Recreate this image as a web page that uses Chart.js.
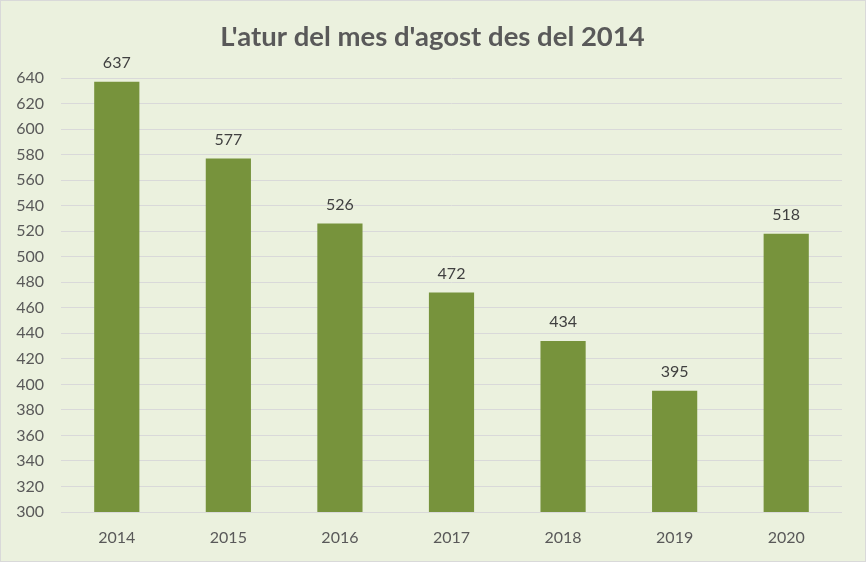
<!DOCTYPE html>
<html><head><meta charset="utf-8">
<script src="https://cdn.jsdelivr.net/npm/chart.js@4/dist/chart.umd.min.js"></script>
<style>
html,body{margin:0;padding:0;background:#fff;}
#wrap{position:relative;width:864px;height:560px;border:1px solid #D9D9D9;background:#EBF1DE;}
canvas{display:block;}
</style></head>
<body><div id="wrap"><canvas id="c" width="864" height="560"></canvas></div>
<script>
const categories = ['2014','2015','2016','2017','2018','2019','2020'];
const values = [637, 577, 526, 472, 434, 395, 518];
const yMin = 300, yMax = 640, yStep = 20;
const titleText = "L'atur del mes d'agost des del 2014";
const FONT = "Lato, 'Liberation Sans', sans-serif";

const labelPlugin = {
  id: 'barLabels',
  afterDatasetsDraw(chart) {
    const ctx = chart.ctx;
    const meta = chart.getDatasetMeta(0);
    ctx.save();
    ctx.font = '16px ' + FONT;
    ctx.fillStyle = '#404040';
    ctx.textAlign = 'center';
    ctx.textBaseline = 'middle';
    meta.data.forEach((bar, i) => {
      ctx.fillText(String(values[i]), bar.x, bar.y - 19);
    });
    // chart title, centred on the canvas
    ctx.font = 'bold 27.5px ' + FONT;
    ctx.fillStyle = '#595959';
    ctx.fillText(titleText, chart.width / 2 - 0.5, 36);
    ctx.restore();
  }
};

new Chart(document.getElementById('c'), {
  type: 'bar',
  data: {
    labels: categories,
    datasets: [{
      data: values,
      backgroundColor: '#77933C',
      categoryPercentage: 1,
      barPercentage: 0.405
    }]
  },
  options: {
    responsive: false,
    animation: false,
    layout: { padding: { left: 0, right: 23, top: 77, bottom: 0 } },
    plugins: {
      legend: { display: false },
      tooltip: { enabled: false },
      title: { display: false }
    },
    scales: {
      x: {
        grid: { display: false, drawTicks: false },
        border: { display: false },
        ticks: { color: '#595959', font: { family: FONT, size: 16 }, padding: 16 },
        afterFit(s) { s.height = 49; }
      },
      y: {
        min: yMin, max: yMax,
        grid: { color: '#D9D9D9', lineWidth: 1, drawTicks: false },
        border: { display: false },
        ticks: { stepSize: yStep, color: '#595959', font: { family: FONT, size: 16 }, padding: 17 },
        afterFit(s) { s.width = 60; }
      }
    }
  },
  plugins: [labelPlugin]
});
</script></body></html>
